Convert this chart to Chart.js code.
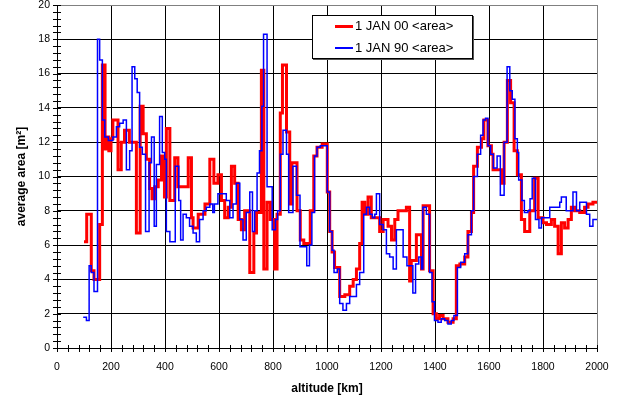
<!DOCTYPE html>
<html>
<head>
<meta charset="utf-8">
<script src="https://cdn.jsdelivr.net/npm/chart.js@4/dist/chart.umd.min.js"></script>
<style>
  body { margin: 0; background: #fff; }
  #wrap { position: relative; width: 620px; height: 402px; }
  #legend {
    position: absolute; left: 312px; top: 15px; width: 159px; height: 42px;
    border: 1px solid #000; background: #fff; box-shadow: 1px 1px 0 #555;
    font: 13px "Liberation Sans", Arial, sans-serif; color: #000;
  }
  .row { position: absolute; left: 0; height: 16px; line-height: 16px; white-space: nowrap; }
  .row span.sw { position: absolute; left: 22px; top: 7px; width: 18px; height: 3px; }
  .row span.tx { position: absolute; left: 42px; top: 0; }
</style>
</head>
<body>
<div id="wrap">
  <canvas id="chart" width="620" height="402"></canvas>
  <div id="legend">
    <div class="row" style="top:2px"><span class="sw" style="background:#ff0000"></span><span class="tx">1 JAN 00 &lt;area&gt;</span></div>
    <div class="row" style="top:24px"><span class="sw" style="background:#0000ff;height:2px"></span><span class="tx">1 JAN 90 &lt;area&gt;</span></div>
  </div>
</div>
<script>
// 1 JAN 00 <area> : bin start altitude [km] and average area [m2]
const redAlt = [100, 110, 127, 137, 158, 168, 178, 185, 192, 200, 207, 226, 238, 250, 268, 294, 308, 319, 331, 343,
  352, 362, 375, 387, 398, 405, 418, 436, 448, 486, 498, 504, 523, 548, 566, 581, 596, 609, 621, 634,
  646, 658, 671, 683, 695, 714, 729, 739, 757, 766, 778, 790, 806, 815, 827, 835, 850, 862, 870, 889,
  901, 914, 938, 951, 963, 982, 1001, 1010, 1019, 1028, 1047, 1066, 1084, 1097, 1109, 1121, 1130, 1140, 1152, 1164,
  1195, 1208, 1226, 1239, 1251, 1263, 1294, 1306, 1312, 1331, 1350, 1356, 1380, 1393, 1405, 1417, 1430, 1448, 1467, 1479,
  1492, 1510, 1522, 1535, 1543, 1557, 1572, 1581, 1596, 1609, 1615, 1646, 1656, 1668, 1680, 1693, 1705, 1720, 1732, 1751,
  1769, 1782, 1800, 1813, 1831, 1843, 1856, 1868, 1880, 1893, 1905, 1917, 1936, 1954, 1967, 1985, 2000];
const redArea = [6.2, 7.8, 4.5, 4.0, 7.2, 16.5, 11.6, 12.3, 11.5, 12.2, 13.3, 10.4, 12.0, 12.7, 12.0, 6.7, 14.1, 12.5, 11.0, 9.3,
  8.7, 9.4, 9.8, 11.2, 8.8, 12.8, 8.6, 11.1, 9.4, 11.1, 7.6, 7.0, 7.8, 8.4, 11.0, 9.6, 10.1, 8.6, 7.6, 8.2,
  10.6, 9.6, 7.5, 6.9, 8.0, 4.4, 6.7, 7.9, 16.2, 4.6, 8.5, 7.5, 4.6, 7.8, 13.7, 16.5, 12.6, 8.4, 10.8, 8.0,
  6.3, 6.1, 8.0, 11.2, 11.7, 11.9, 9.1, 6.8, 5.6, 4.7, 3.0, 3.1, 3.6, 4.0, 4.6, 6.1, 8.5, 7.8, 8.8, 7.6,
  6.8, 7.5, 7.1, 6.3, 7.5, 8.0, 8.2, 3.9, 5.1, 6.6, 4.6, 8.3, 4.5, 2.0, 1.7, 1.9, 1.7, 1.5, 1.7, 4.8,
  4.9, 5.3, 6.8, 7.9, 10.6, 11.7, 12.2, 13.3, 11.8, 11.3, 10.4, 9.6, 12.0, 15.6, 14.3, 11.5, 10.1, 7.5, 6.8, 8.0,
  9.9, 7.6, 7.3, 7.2, 7.5, 7.1, 5.5, 7.3, 7.0, 7.5, 8.2, 8.0, 7.9, 8.2, 8.4, 8.5, 8.5];

// 1 JAN 90 <area>
const blueAlt = [97, 109, 119, 127, 137, 150, 158, 168, 177, 190, 207, 220, 232, 245, 257, 269, 278, 288, 297, 306,
  316, 328, 341, 350, 360, 368, 380, 390, 399, 405, 418, 438, 451, 458, 467, 479, 491, 504, 516, 528,
  541, 553, 566, 577, 583, 596, 627, 640, 652, 664, 677, 689, 701, 714, 724, 732, 741, 750, 759, 765,
  778, 797, 809, 817, 827, 837, 850, 858, 874, 887, 900, 925, 935, 944, 954, 963, 975, 1001, 1010, 1019,
  1026, 1038, 1047, 1059, 1072, 1084, 1109, 1121, 1136, 1146, 1158, 1168, 1177, 1183, 1195, 1208, 1220, 1232, 1245, 1257,
  1282, 1296, 1318, 1328, 1340, 1350, 1355, 1368, 1380, 1389, 1398, 1411, 1423, 1436, 1448, 1460, 1470, 1483, 1495, 1510,
  1522, 1535, 1543, 1557, 1569, 1578, 1587, 1596, 1606, 1616, 1630, 1642, 1656, 1667, 1677, 1686, 1696, 1705, 1710, 1722,
  1731, 1744, 1752, 1760, 1772, 1785, 1794, 1825, 1862, 1868, 1886, 1911, 1924, 1936, 1961, 1973, 1985, 2000];
const blueArea = [1.8, 1.6, 4.8, 4.4, 3.3, 18.0, 16.8, 13.3, 12.3, 12.1, 12.3, 12.9, 13.1, 13.3, 10.4, 11.5, 16.4, 15.7, 14.9, 11.7,
  11.3, 6.8, 10.8, 12.3, 7.1, 10.7, 13.5, 11.4, 11.0, 6.8, 6.2, 10.6, 8.6, 6.3, 7.8, 7.6, 7.1, 6.7, 6.2, 7.5,
  8.0, 8.2, 8.4, 7.9, 8.4, 9.0, 8.6, 7.6, 8.4, 9.6, 7.5, 6.3, 7.9, 9.1, 6.8, 8.0, 10.2, 11.5, 14.1, 18.3,
  9.4, 6.9, 7.5, 8.0, 11.3, 12.7, 11.3, 7.9, 10.6, 8.9, 5.9, 4.8, 6.0, 7.9, 11.2, 11.7, 11.8, 9.1, 6.8, 5.7,
  4.4, 4.6, 2.6, 2.2, 2.6, 3.0, 3.7, 4.4, 7.8, 8.2, 7.8, 7.6, 7.8, 9.0, 7.2, 6.9, 5.5, 5.3, 4.6, 6.9,
  5.3, 4.8, 3.2, 4.9, 5.3, 4.6, 8.2, 7.8, 4.4, 2.7, 1.6, 1.5, 1.7, 1.6, 1.4, 1.6, 1.9, 4.7, 5.0, 5.5,
  6.6, 8.0, 10.0, 11.3, 12.4, 13.3, 13.4, 11.8, 11.3, 10.5, 11.2, 8.9, 12.0, 16.4, 15.0, 14.5, 12.2, 11.4, 9.8, 8.6,
  7.9, 8.0, 8.7, 9.9, 7.5, 7.0, 7.6, 8.2, 8.5, 8.8, 8.0, 9.1, 8.0, 8.5, 7.8, 7.1, 7.5, 7.5];

// axis ticks: minor every 40 km / 0.4 m2, labelled every 200 km / 2 m2
const xMin = 0, xMax = 2000, xStep = 40, xLabelStep = 200;
const yMin = 0, yMax = 20, yStep = 0.4, yLabelStep = 2;

function onStep(v, step) {
  return Math.abs(v / step - Math.round(v / step)) < 1e-6;
}

function toPoints(alts, vals) {
  return alts.map((a, i) => ({ x: a, y: vals[i] }));
}

// ticks that cross the axis lines
const crossTicks = {
  id: 'crossTicks',
  afterDraw(chart) {
    const ctx = chart.ctx;
    const xs = chart.scales.x, ys = chart.scales.y;
    const area = chart.chartArea;
    ctx.save();
    ctx.strokeStyle = '#000';
    ctx.lineWidth = 1;
    ctx.beginPath();
    xs.ticks.forEach(t => {
      const px = Math.round(xs.getPixelForValue(t.value)) + 0.5;
      ctx.moveTo(px, area.bottom - 3);
      ctx.lineTo(px, area.bottom + 4);
    });
    ys.ticks.forEach(t => {
      const py = Math.round(ys.getPixelForValue(t.value)) + 0.5;
      ctx.moveTo(area.left - 4, py);
      ctx.lineTo(area.left + 4, py);
    });
    ctx.stroke();
    ctx.restore();
  }
};

const font = '"Liberation Sans", Arial, sans-serif';

new Chart(document.getElementById('chart'), {
  type: 'line',
  data: {
    datasets: [
      {
        label: '1 JAN 00 <area>',
        data: toPoints(redAlt, redArea),
        borderColor: '#ff0000',
        borderWidth: 3,
        stepped: 'before',
        pointRadius: 0,
        fill: false,
        order: 1
      },
      {
        label: '1 JAN 90 <area>',
        data: toPoints(blueAlt, blueArea),
        borderColor: '#0000ff',
        borderWidth: 1.5,
        stepped: 'before',
        pointRadius: 0,
        fill: false,
        order: 0
      }
    ]
  },
  options: {
    responsive: false,
    animation: false,
    devicePixelRatio: 1,
    layout: { padding: { left: 0, right: 23, top: 5, bottom: 0 } },
    plugins: {
      legend: { display: false },
      tooltip: { enabled: false }
    },
    scales: {
      x: {
        type: 'linear',
        min: xMin,
        max: xMax,
        afterFit: function(scale) {
          scale.height = 54;
          scale.paddingLeft = 0;
          scale.paddingRight = 0;
        },
        ticks: {
          stepSize: xStep,
          autoSkip: false,
          maxRotation: 0,
          padding: 13,
          color: '#000',
          font: { family: font, size: 10.5 },
          callback: v => onStep(v, xLabelStep) ? String(v) : ''
        },
        grid: {
          drawTicks: false,
          lineWidth: 1,
          color: c => {
            const v = c.tick ? c.tick.value : 0;
            if (!onStep(v, xLabelStep)) return 'rgba(0,0,0,0)';
            return v === xMax ? '#808080' : '#000';
          }
        },
        border: { color: '#000', width: 1 },
        title: {
          display: true,
          text: 'altitude [km]',
          color: '#000',
          font: { family: font, size: 12, weight: 'bold' },
          padding: { top: 0, bottom: 6 }
        }
      },
      y: {
        type: 'linear',
        min: yMin,
        max: yMax,
        afterFit: function(scale) {
          scale.width = 57;
          scale.paddingTop = 0;
          scale.paddingBottom = 0;
        },
        ticks: {
          stepSize: yStep,
          autoSkip: false,
          padding: 7,
          color: '#000',
          font: { family: font, size: 10.5 },
          callback: v => onStep(v, yLabelStep) ? String(Math.round(v)) : ''
        },
        grid: {
          drawTicks: false,
          lineWidth: 1,
          color: c => {
            const v = c.tick ? c.tick.value : 0;
            if (!onStep(v, yLabelStep)) return 'rgba(0,0,0,0)';
            return Math.abs(v - yMax) < 1e-6 ? '#808080' : '#000';
          }
        },
        border: { color: '#000', width: 1 },
        title: {
          display: true,
          text: 'average area [m²]',
          color: '#000',
          font: { family: font, size: 12, weight: 'bold' },
          padding: { top: 14, bottom: 0 }
        }
      }
    }
  },
  plugins: [crossTicks]
});
</script>
</body>
</html>
